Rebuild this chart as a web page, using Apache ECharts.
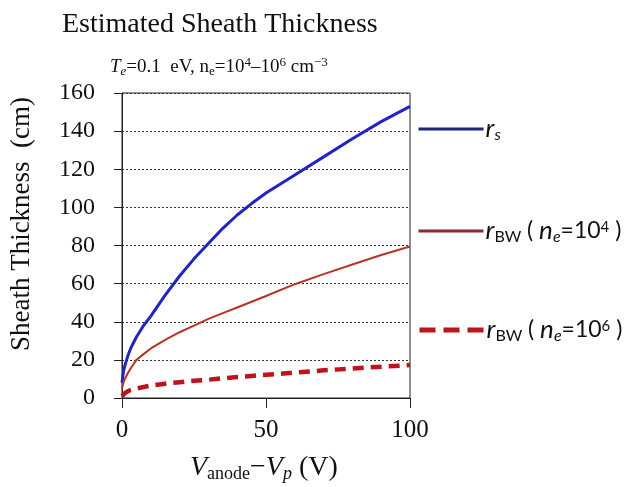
<!DOCTYPE html>
<html>
<head>
<meta charset="utf-8">
<script src="https://cdn.jsdelivr.net/npm/echarts@6/dist/echarts.min.js"></script>
<style>html,body{margin:0;padding:0;background:#fff}#c{width:624px;height:487px}</style>
</head>
<body>
<div id="c"></div>
<script>
// Data
const voltage = [0, 0.5, 1, 2, 3, 5, 7.5, 10, 15, 20, 25, 30, 35, 40, 45, 50, 60, 70, 80, 90, 100];
const rS      = [8, 14, 17, 22, 26, 32, 38, 43, 54, 64, 73, 81, 89, 96, 102, 107.5, 117, 126.5, 136, 145, 153];
const rBW4    = [5, 8, 10, 13, 15.5, 20, 23, 26, 30.5, 34.5, 38, 41.5, 44.5, 47.5, 50.5, 53.5, 59.7, 65, 70, 75, 79.5];
const rBW6    = [1, 2, 2.5, 3.5, 4.2, 5, 5.8, 6.5, 7.5, 8.3, 9, 9.6, 10.3, 11, 11.6, 12.2, 13.3, 14.5, 15.5, 16.4, 17.3];
const yTicks  = [0, 20, 40, 60, 80, 100, 120, 140, 160];
const xTicks  = [0, 50, 100];
const seriesNames = ['rs', 'rbw4', 'rbw6'];

const serif = '"Liberation Serif", "DejaVu Serif", serif';
const sans = 'Lato, "Open Sans", sans-serif';

function pairs(ys) { return voltage.map((v, i) => [v, ys[i]]); }

const legendRich = {
  r: { fontFamily: sans, fontStyle: 'italic', fontSize: 26, color: '#111', lineHeight: 28, verticalAlign: 'middle' },
  t: { fontFamily: sans, fontSize: 23, color: '#111', lineHeight: 28, verticalAlign: 'middle' },
  sub: { fontFamily: sans, fontSize: 16, color: '#111', lineHeight: 16, verticalAlign: 'bottom' },
  subi: { fontFamily: sans, fontStyle: 'italic', fontSize: 16, color: '#111', lineHeight: 16, verticalAlign: 'bottom' },
  sup: { fontFamily: sans, fontSize: 15, color: '#111', lineHeight: 15, verticalAlign: 'top', padding: [3, 0, 0, 0] }
};
const legendLabels = {
  rs: '{r|r}{subi|s}',
  rbw4: '{r|r}{sub|BW}{t| ( }{r|n}{subi|e}{t|=10}{sup|4}{t| )}',
  rbw6: '{r|r}{sub|BW}{t| ( }{r|n}{subi|e}{t|=10}{sup|6}{t| )}'
};
function mkLegend(name, top, lineStyle) {
  return {
    data: [name], left: 417, top: top, padding: 0, orient: 'vertical',
    itemWidth: 65, itemHeight: 14, itemGap: 0, selectedMode: false,
    itemStyle: { opacity: 0 },
    lineStyle: lineStyle,
    formatter: n => legendLabels[n],
    textStyle: { rich: legendRich, padding: [0, 0, 0, -3] }
  };
}

const chart = echarts.init(document.getElementById('c'), null, { renderer: 'canvas' });
chart.setOption({
  animation: false,
  backgroundColor: '#fff',
  grid: { left: 122, right: 214, top: 93, bottom: 89, show: true, borderColor: '#222', borderWidth: 1, backgroundColor: 'transparent' },
  graphic: [
    { type: 'text', left: 62, top: 11,
      style: { text: 'Estimated Sheath Thickness', font: '28px ' + serif, fill: '#111' } },
    { type: 'text', left: 110, top: 56,
      style: {
        text: '{i|T}{sb|e}{n|=0.1  eV, n}{sb2|e}{n|=10}{sp|4}{n|–10}{sp|6}{n| cm}{sp|−3}',
        rich: {
          i: { fontFamily: serif, fontStyle: 'italic', fontSize: 19, fill: '#111', lineHeight: 22, verticalAlign: 'middle' },
          n: { fontFamily: serif, fontSize: 19, fill: '#111', lineHeight: 22, verticalAlign: 'middle' },
          sb: { fontFamily: serif, fontStyle: 'italic', fontSize: 13, fill: '#111', lineHeight: 13, verticalAlign: 'bottom' },
          sb2: { fontFamily: serif, fontSize: 13, fill: '#111', lineHeight: 13, verticalAlign: 'bottom' },
          sp: { fontFamily: serif, fontSize: 13, fill: '#111', lineHeight: 13, verticalAlign: 'top' }
        }
      } },
    { type: 'text', x: 22, y: 224, rotation: Math.PI / 2,
      style: { text: 'Sheath Thickness  (cm)', font: '27px ' + serif, fill: '#111', align: 'center', verticalAlign: 'middle' } },
    { type: 'text', left: 190, top: 454,
      style: {
        text: '{i|V}{sb|anode}{n|−}{i|V}{sbi|p}{n| (V)}',
        rich: {
          i: { fontFamily: serif, fontStyle: 'italic', fontSize: 28, fill: '#111', lineHeight: 30, verticalAlign: 'middle' },
          n: { fontFamily: serif, fontSize: 28, fill: '#111', lineHeight: 30, verticalAlign: 'middle' },
          sb: { fontFamily: serif, fontSize: 18, fill: '#111', lineHeight: 18, verticalAlign: 'bottom' },
          sbi: { fontFamily: serif, fontStyle: 'italic', fontSize: 18, fill: '#111', lineHeight: 18, verticalAlign: 'bottom' }
        }
      } }
  ],
  legend: [
    mkLegend('rs', 116, { width: 3, color: '#22227a' }),
    mkLegend('rbw4', 217, { width: 3, color: '#8a2a2a' }),
    mkLegend('rbw6', 316, { width: 5, color: '#c0121c', type: [16, 8] })
  ],
  xAxis: {
    type: 'value', min: 0, max: 100, interval: 50,
    axisLine: { show: true, onZero: false, lineStyle: { color: '#222', width: 1 } },
    axisTick: { show: true, inside: false, length: 10, lineStyle: { color: '#222' } },
    axisLabel: { fontFamily: serif, fontSize: 25, color: '#111', margin: 20,
      formatter: v => xTicks.includes(v) ? String(v) : '' },
    splitLine: { show: false }
  },
  yAxis: {
    type: 'value', min: 0, max: 160, interval: 20,
    axisLine: { show: true, lineStyle: { color: '#222', width: 1 } },
    axisTick: { show: true, inside: false, length: 8, lineStyle: { color: '#222' } },
    axisLabel: { fontFamily: serif, fontSize: 24, color: '#111', margin: 27,
      formatter: v => yTicks.includes(v) ? String(v) : '' },
    splitLine: { show: true, lineStyle: { color: '#333', type: [2, 2], width: 1 } }
  },
  series: [
    { name: seriesNames[0], type: 'line', data: pairs(rS), symbol: 'none', smooth: false,
      color: '#2323c4', lineStyle: { color: '#2323c4', width: 3 } },
    { name: seriesNames[1], type: 'line', data: pairs(rBW4), symbol: 'none', smooth: false,
      color: '#b83325', lineStyle: { color: '#b83325', width: 2 } },
    { name: seriesNames[2], type: 'line', data: pairs(rBW6), symbol: 'none', smooth: false,
      color: '#c0121c', lineStyle: { color: '#c0121c', width: 4.5, type: [11, 7] } }
  ]
});
</script>
</body>
</html>
